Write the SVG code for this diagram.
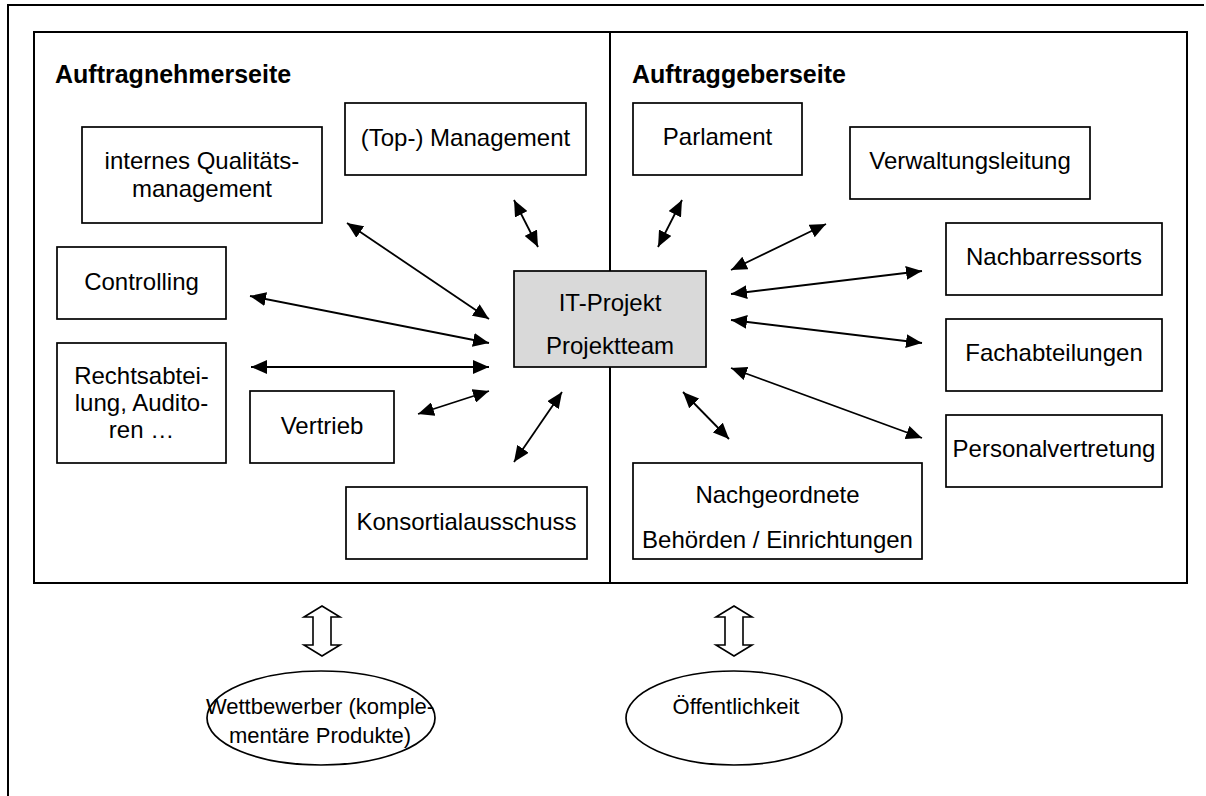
<svg xmlns="http://www.w3.org/2000/svg" width="1206" height="796" viewBox="0 0 1206 796">
  <style>
    .frame { fill: none; stroke: #000; stroke-width: 2; }
    .box { fill: #fff; stroke: #000; stroke-width: 1.7; }
    .core { fill: #d9d9d9; stroke: #000; stroke-width: 1.7; }
    .lbl { font-family: "Liberation Sans", Arial, sans-serif; font-size: 24px; fill: #000; text-anchor: middle; }
    .small { font-size: 22px; }
    .ttl { font-family: "Liberation Sans", Arial, sans-serif; font-size: 25px; font-weight: bold; fill: #000; }
    .link { stroke: #000; stroke-width: 1.8; fill: none; marker-start: url(#tip); marker-end: url(#tip); }
    .block { fill: #fff; stroke: #000; stroke-width: 1.6; stroke-linejoin: miter; }
  </style>
  <defs>
    <marker id="tip" viewBox="0 0 16 14" refX="16" refY="7" markerWidth="16" markerHeight="14" markerUnits="userSpaceOnUse" orient="auto-start-reverse">
      <path d="M0,0 L16,7 L0,14 Z" fill="#000"/>
    </marker>
  </defs>

  <!-- page frame and the two sides -->
  <path class="frame" d="M8,800 L8,5 L1204,5"/>
  <rect class="frame" x="34" y="32" width="1153" height="551"/>
  <line class="frame" x1="610" y1="32" x2="610" y2="583"/>

  <text class="ttl" x="55" y="83">Auftragnehmerseite</text>
  <text class="ttl" x="632" y="83">Auftraggeberseite</text>

  <!-- connectors -->
  <g id="connectors">
    <line class="link" x1="347" y1="223" x2="489" y2="319"/>
    <line class="link" x1="514" y1="200" x2="538" y2="247"/>
    <line class="link" x1="250" y1="296" x2="489" y2="343"/>
    <line class="link" x1="251" y1="367" x2="489" y2="367"/>
    <line class="link" x1="418" y1="414" x2="489" y2="391"/>
    <line class="link" x1="562" y1="392" x2="514" y2="462"/>
    <line class="link" x1="682" y1="200" x2="658" y2="247"/>
    <line class="link" x1="731" y1="270" x2="826" y2="224"/>
    <line class="link" x1="731" y1="294" x2="922" y2="271"/>
    <line class="link" x1="731" y1="320" x2="922" y2="343"/>
    <line class="link" x1="731" y1="368" x2="922" y2="438"/>
    <line class="link" x1="683" y1="392" x2="729" y2="439"/>
    <!-- hollow up/down arrows to the outside parties -->
    <path class="block" d="M322,606 L340,617 L331,617 L331,645 L340,645 L322,656 L304,645 L313,645 L313,617 L304,617 Z"/>
    <path class="block" d="M734,606 L752,617 L743,617 L743,645 L752,645 L734,656 L716,645 L725,645 L725,617 L716,617 Z"/>
  </g>

  <!-- contractor side -->
  <g id="qm">
    <rect class="box" x="82" y="127" width="240" height="96"/>
    <text class="lbl" x="202" y="169">internes Qualitäts-</text>
    <text class="lbl" x="202" y="197">management</text>
  </g>
  <g id="top-management">
    <rect class="box" x="345" y="103" width="241" height="72"/>
    <text class="lbl" x="465.5" y="146">(Top-) Management</text>
  </g>
  <g id="controlling">
    <rect class="box" x="57" y="247" width="169" height="72"/>
    <text class="lbl" x="141.5" y="290">Controlling</text>
  </g>
  <g id="recht">
    <rect class="box" x="57" y="343" width="169" height="120"/>
    <text class="lbl" x="141.5" y="384">Rechtsabtei-</text>
    <text class="lbl" x="141.5" y="411">lung, Audito-</text>
    <text class="lbl" x="141.5" y="438">ren …</text>
  </g>
  <g id="vertrieb">
    <rect class="box" x="250" y="391" width="144" height="72"/>
    <text class="lbl" x="322" y="434">Vertrieb</text>
  </g>
  <g id="konsortium">
    <rect class="box" x="346" y="487" width="241" height="72"/>
    <text class="lbl" x="466.5" y="530">Konsortialausschuss</text>
  </g>

  <!-- project core -->
  <g id="projekt">
    <rect class="core" x="514" y="271" width="192" height="96"/>
    <text class="lbl" x="610" y="311">IT-Projekt</text>
    <text class="lbl" x="610" y="354">Projektteam</text>
  </g>

  <!-- client side -->
  <g id="parlament">
    <rect class="box" x="633" y="103" width="169" height="72"/>
    <text class="lbl" x="717.5" y="145">Parlament</text>
  </g>
  <g id="verwaltungsleitung">
    <rect class="box" x="850" y="127" width="240" height="72"/>
    <text class="lbl" x="970" y="169">Verwaltungsleitung</text>
  </g>
  <g id="nachbarressorts">
    <rect class="box" x="946" y="223" width="216" height="72"/>
    <text class="lbl" x="1054" y="265">Nachbarressorts</text>
  </g>
  <g id="fachabteilungen">
    <rect class="box" x="946" y="319" width="216" height="72"/>
    <text class="lbl" x="1054" y="361">Fachabteilungen</text>
  </g>
  <g id="personalvertretung">
    <rect class="box" x="946" y="415" width="216" height="72"/>
    <text class="lbl" x="1054" y="457">Personalvertretung</text>
  </g>
  <g id="nachgeordnete">
    <rect class="box" x="633" y="463" width="289" height="96"/>
    <text class="lbl" x="777.5" y="503">Nachgeordnete</text>
    <text class="lbl" x="777.5" y="548">Behörden / Einrichtungen</text>
  </g>

  <!-- outside parties -->
  <g id="wettbewerber">
    <ellipse class="box" cx="321" cy="718" rx="114" ry="47"/>
    <text class="lbl small" x="320" y="714">Wettbewerber (komple-</text>
    <text class="lbl small" x="320" y="743">mentäre Produkte)</text>
  </g>
  <g id="oeffentlichkeit">
    <ellipse class="box" cx="734" cy="718" rx="108" ry="47"/>
    <text class="lbl small" x="736" y="714">Öffentlichkeit</text>
  </g>
</svg>
